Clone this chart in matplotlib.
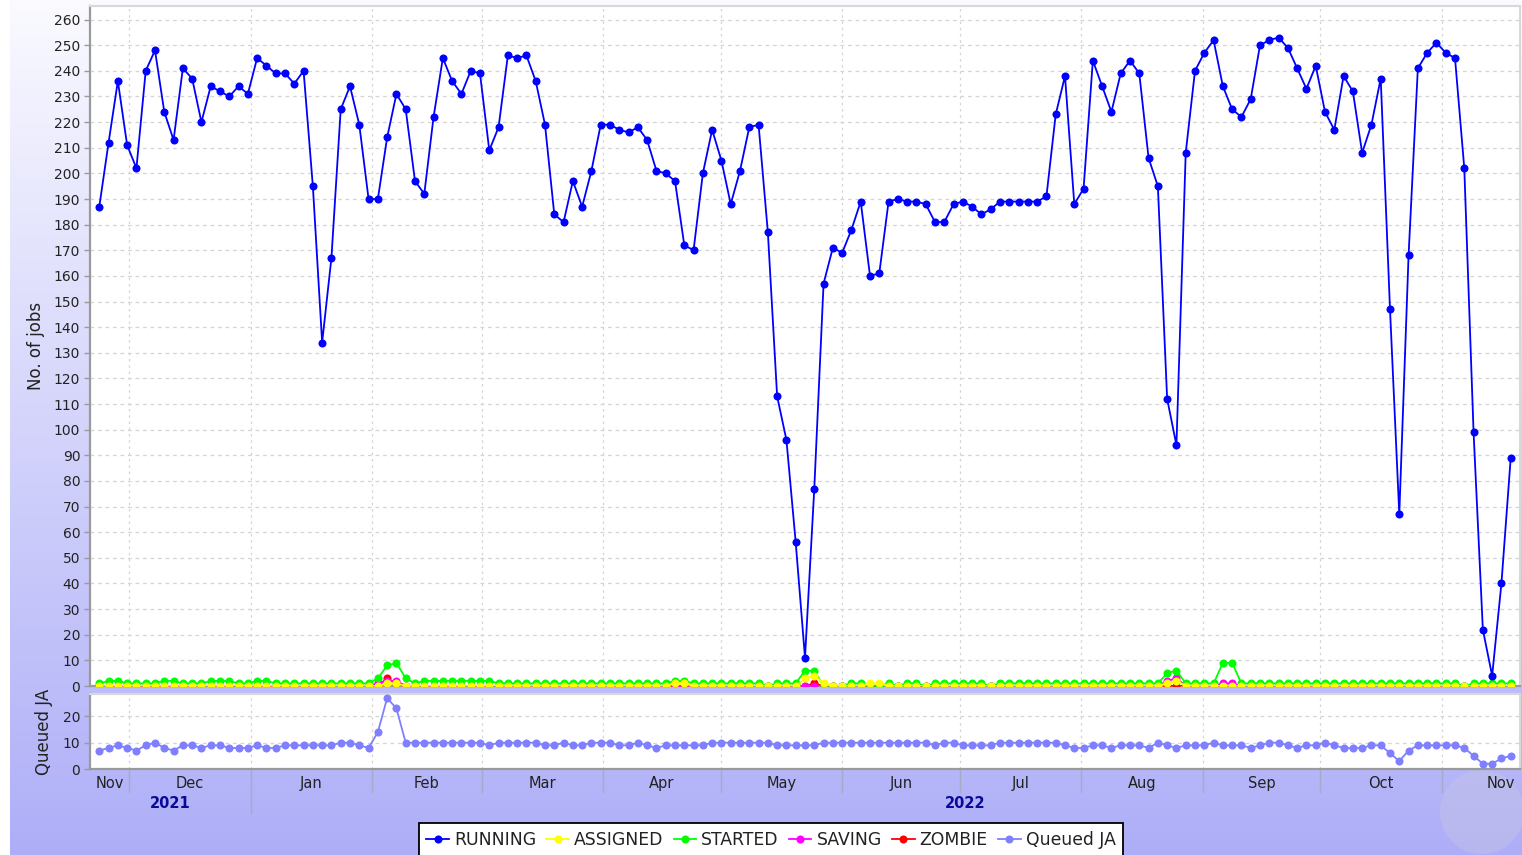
import datetime as dt
import numpy as np
import matplotlib
matplotlib.use("Agg")
import matplotlib.pyplot as plt
from matplotlib.lines import Line2D
from matplotlib.patches import Ellipse

# ---------------- data ----------------
axis_start = dt.date(2021, 11, 21)
axis_days = 365
sample_step_days = 365 / 154   # one sample every ~2.37 days

running = [187, 212, 236, 211, 202, 240, 248, 224, 213, 241, 237, 220, 234, 232, 230, 234, 231, 245, 242, 239,
           239, 235, 240, 195, 134, 167, 225, 234, 219, 190, 190, 214, 231, 225, 197, 192, 222, 245, 236, 231,
           240, 239, 209, 218, 246, 245, 246, 236, 219, 184, 181, 197, 187, 201, 219, 219, 217, 216, 218, 213,
           201, 200, 197, 172, 170, 200, 217, 205, 188, 201, 218, 219, 177, 113, 96, 56, 11, 77, 157, 171,
           169, 178, 189, 160, 161, 189, 190, 189, 189, 188, 181, 181, 188, 189, 187, 184, 186, 189, 189, 189,
           189, 189, 191, 223, 238, 188, 194, 244, 234, 224, 239, 244, 239, 206, 195, 112, 94, 208, 240, 247,
           252, 234, 225, 222, 229, 250, 252, 253, 249, 241, 233, 242, 224, 217, 238, 232, 208, 219, 237, 147,
           67, 168, 241, 247, 251, 247, 245, 202, 99, 22, 4, 40, 89]

started = [1, 2, 2, 1, 1, 1, 1, 2, 2, 1, 1, 1, 2, 2, 2, 1, 1, 2, 2, 1,
           1, 1, 1, 1, 1, 1, 1, 1, 1, 1, 3, 8, 9, 3, 1, 2, 2, 2, 2, 2,
           2, 2, 2, 1, 1, 1, 1, 1, 1, 1, 1, 1, 1, 1, 1, 1, 1, 1, 1, 1,
           1, 1, 2, 2, 1, 1, 1, 1, 1, 1, 1, 1, 0, 1, 1, 1, 6, 6, 0, 0,
           0, 1, 1, 0, 0, 1, 0, 1, 1, 0, 1, 1, 1, 1, 1, 1, 0, 1, 1, 1,
           1, 1, 1, 1, 1, 1, 1, 1, 1, 1, 1, 1, 1, 1, 1, 5, 6, 1, 1, 1,
           1, 9, 9, 1, 1, 1, 1, 1, 1, 1, 1, 1, 1, 1, 1, 1, 1, 1, 1, 1,
           1, 1, 1, 1, 1, 1, 1, 0, 1, 1, 1, 1, 1]

assigned = [0, 0, 0, 0, 0, 0, 0, 0, 0, 0, 0, 0, 0, 0, 0, 0, 0, 0, 0, 0,
            0, 0, 0, 0, 0, 0, 0, 0, 0, 0, 0, 1, 1, 0, 0, 0, 0, 0, 0, 0,
            0, 0, 0, 0, 0, 0, 0, 0, 0, 0, 0, 0, 0, 0, 0, 0, 0, 0, 0, 0,
            0, 0, 1, 1, 0, 0, 0, 0, 0, 0, 0, 0, 0, 0, 0, 0, 3, 4, 1, 0,
            0, 0, 0, 1, 1, 0, 0, 0, 0, 0, 0, 0, 0, 0, 0, 0, 0, 0, 0, 0,
            0, 0, 0, 0, 0, 0, 0, 0, 0, 0, 0, 0, 0, 0, 0, 1, 2, 0, 0, 0,
            0, 0, 0, 0, 0, 0, 0, 0, 0, 0, 0, 0, 0, 0, 0, 0, 0, 0, 0, 0,
            0, 0, 0, 0, 0, 0, 0, 0, 0, 0, 0, 0, 0]

saving = [0, 0, 0, 0, 0, 0, 0, 0, 0, 0, 0, 0, 0, 0, 0, 0, 0, 0, 0, 0,
          0, 0, 0, 0, 0, 0, 0, 0, 0, 0, 1, 2, 2, 0, 0, 0, 0, 0, 0, 0,
          0, 0, 0, 0, 0, 0, 0, 0, 0, 0, 0, 0, 0, 0, 0, 0, 0, 0, 0, 0,
          0, 0, 0, 0, 0, 0, 0, 0, 0, 0, 0, 0, 0, 0, 0, 0, 0, 0, 0, 0,
          0, 0, 0, 0, 0, 0, 0, 0, 0, 0, 0, 0, 0, 0, 0, 0, 0, 0, 0, 0,
          0, 0, 0, 0, 0, 0, 0, 0, 0, 0, 0, 0, 0, 0, 0, 2, 3, 0, 0, 0,
          0, 1, 1, 0, 0, 0, 0, 0, 0, 0, 0, 0, 0, 0, 0, 0, 0, 0, 0, 0,
          0, 0, 0, 0, 0, 0, 0, 0, 0, 0, 0, 0, 0]

zombie = [0, 0, 0, 0, 0, 0, 0, 0, 0, 0, 0, 0, 0, 0, 0, 0, 0, 0, 0, 0,
          0, 0, 0, 0, 0, 0, 0, 0, 0, 0, 0, 3, 1, 0, 0, 0, 0, 0, 0, 0,
          0, 0, 0, 0, 0, 0, 0, 0, 0, 0, 0, 0, 0, 0, 0, 0, 0, 0, 0, 0,
          0, 0, 0, 0, 0, 0, 0, 0, 0, 0, 0, 0, 0, 0, 0, 0, 0, 1, 0, 0,
          0, 0, 0, 0, 0, 0, 0, 0, 0, 0, 0, 0, 0, 0, 0, 0, 0, 0, 0, 0,
          0, 0, 0, 0, 0, 0, 0, 0, 0, 0, 0, 0, 0, 0, 0, 0, 0, 0, 0, 0,
          0, 0, 0, 0, 0, 0, 0, 0, 0, 0, 0, 0, 0, 0, 0, 0, 0, 0, 0, 0,
          0, 0, 0, 0, 0, 0, 0, 0, 0, 0, 0, 0, 0]

queued = [7, 8, 9, 8, 7, 9, 10, 8, 7, 9, 9, 8, 9, 9, 8, 8, 8, 9, 8, 8,
          9, 9, 9, 9, 9, 9, 10, 10, 9, 8, 14, 27, 23, 10, 10, 10, 10, 10, 10, 10,
          10, 10, 9, 10, 10, 10, 10, 10, 9, 9, 10, 9, 9, 10, 10, 10, 9, 9, 10, 9,
          8, 9, 9, 9, 9, 9, 10, 10, 10, 10, 10, 10, 10, 9, 9, 9, 9, 9, 10, 10,
          10, 10, 10, 10, 10, 10, 10, 10, 10, 10, 9, 10, 10, 9, 9, 9, 9, 10, 10, 10,
          10, 10, 10, 10, 9, 8, 8, 9, 9, 8, 9, 9, 9, 8, 10, 9, 8, 9, 9, 9,
          10, 9, 9, 9, 8, 9, 10, 10, 9, 8, 9, 9, 10, 9, 8, 8, 8, 9, 9, 6,
          3, 7, 9, 9, 9, 9, 9, 8, 5, 2, 2, 4, 5]

series_names = ["RUNNING", "ASSIGNED", "STARTED", "SAVING", "ZOMBIE", "Queued JA"]
series_colors = ["#0000ff", "#ffff00", "#00ff00", "#ff00ff", "#ff0000", "#7f7fff"]
month_names = ["Jan", "Feb", "Mar", "Apr", "May", "Jun", "Jul", "Aug", "Sep", "Oct", "Nov", "Dec"]

# ---------------- figure ----------------
W, H = 1522, 855
fig = plt.figure(figsize=(W / 100, H / 100), dpi=100)
fig.patch.set_facecolor("white")

# gradient background
bg = fig.add_axes([10 / W, 0, 1 - 10 / W, 1], zorder=-10)
top_c = np.array([250, 250, 255]) / 255
bot_c = np.array([174, 174, 248]) / 255
t = np.linspace(0, 1, 256)[:, None]
grad = top_c[None, None, :] * (1 - t[:, :, None]) + bot_c[None, None, :] * t[:, :, None]
bg.imshow(np.repeat(grad, 2, axis=1), aspect="auto", extent=[0, 1, 0, 1], origin="upper")
bg.set_xlim(0, 1)
bg.set_ylim(0, 1)
bg.set_axis_off()
bg.add_patch(Ellipse(((1482 - 10) / (W - 10), 1 - 812 / H), 84 / (W - 10), 84 / H,
                     transform=bg.transAxes, facecolor="#c4c4e6", edgecolor="none", alpha=0.45))

L = 90 / W
AW = 1430 / W
ax1 = fig.add_axes([L, 1 - 686 / H, AW, (686 - 6) / H])
ax2 = fig.add_axes([L, 1 - 769 / H, AW, (769 - 694) / H], sharex=ax1)

x = (np.arange(len(running)) + 1) * sample_step_days

mk = dict(marker="o", markersize=5.8, lw=1.3, markeredgewidth=0)
# draw in reverse order so RUNNING ends up on top
order = [(zombie, 4), (saving, 3), (started, 2), (assigned, 1), (running, 0)]
for vals, k in order:
    c = series_colors[k]
    ax1.plot(x, vals, color=c, markerfacecolor=c, zorder=3 + (5 - k), **mk)
ax2.plot(x, queued, color=series_colors[5], markerfacecolor=series_colors[5], zorder=3, **mk)


def day(y, m, d=1):
    return (dt.date(y, m, d) - axis_start).days


# month boundaries
months = []
y, m = 2021, 11
while True:
    s = day(y, m)
    ny, nm = (y + 1, 1) if m == 12 else (y, m + 1)
    e = day(ny, nm)
    months.append((y, m, s, e))
    if s > axis_days:
        break
    y, m = ny, nm
months = [mm for mm in months if mm[3] > 0 and mm[2] < axis_days]
boundaries = [mm[2] for mm in months if 0 < mm[2] < axis_days]

for ax in (ax1, ax2):
    ax.set_xlim(0, axis_days)
    ax.set_xticks(boundaries)
    ax.set_facecolor("white")
    ax.grid(True, axis="y", color="#d4d4d4", linestyle=(0, (3, 3)), linewidth=0.9)
    ax.grid(True, axis="x", color="#d4d4d4", linestyle=(0, (2, 3)), linewidth=0.9)
    ax.set_axisbelow(True)
    for sp in ["top", "right"]:
        ax.spines[sp].set_color("#d8d8d8")
        ax.spines[sp].set_linewidth(1.5)
    for sp in ["left", "bottom"]:
        ax.spines[sp].set_color("#9a9a9a")
        ax.spines[sp].set_linewidth(1.6)
    ax.tick_params(axis="x", length=0, labelbottom=False)
    ax.tick_params(axis="y", length=4, width=1, color="#9a9a9a", labelsize=10,
                   labelcolor="#222222", pad=3)

ax1.set_ylim(0, 265.3)
ax1.set_yticks(np.arange(0, 261, 10))
ax2.set_ylim(0, 28.5)
ax2.set_yticks([0, 10, 20])

ax1.set_ylabel("No. of jobs", fontsize=12, color="#222222")
ax2.set_ylabel("Queued JA", fontsize=12, color="#222222")
ax1.yaxis.set_label_coords(-45 / 1430, 0.5)
ax2.yaxis.set_label_coords(-37 / 1430, 0.5)

# month labels and separators (below ax2)
tr = ax2.get_xaxis_transform()
y_month = -(783 - 769) / 75
y_year = -(803 - 769) / 75
y_sep1 = -(792 - 769) / 75
y_sep2 = -(813 - 769) / 75
for (yy, mm, s, e) in months:
    c = (s + e) / 2 if s >= 0 else (0 + e) / 2
    ax2.text(c, y_month, month_names[mm - 1], transform=tr, ha="center", va="center",
             fontsize=10.5, color="#222222", clip_on=False)
year_start_2022 = day(2022, 1)
for b in boundaries:
    yb = y_sep2 if b == year_start_2022 else y_sep1
    ax2.plot([b, b], [0, yb], transform=tr, color="#a8a8c8", lw=1.0, clip_on=False)

years = [2021, 2022]
for yy in years:
    s, e = day(yy, 1), day(yy + 1, 1)
    c = (s + e) / 2 if s >= 0 else (0 + e) / 2
    ax2.text(c, y_year, str(yy), transform=tr, ha="center", va="center",
             fontsize=10.5, fontweight="bold", color="#0a0a9a", clip_on=False)

# legend
handles = [Line2D([0], [0], color=c, marker="o", markersize=5.8, markeredgewidth=0, lw=1.3)
           for c in series_colors]
leg = fig.legend(handles, series_names, loc="upper center",
                 bbox_to_anchor=(771 / W, 1 - 823 / H), ncol=6, fontsize=12.4,
                 frameon=True, fancybox=False, edgecolor="black", handlelength=1.3,
                 handletextpad=0.3, columnspacing=0.6, borderpad=0.45, borderaxespad=0,
                 framealpha=1)
leg.get_frame().set_linewidth(1.3)
for txt in leg.get_texts():
    txt.set_color("#222222")

fig.savefig("out.png", dpi=100)
